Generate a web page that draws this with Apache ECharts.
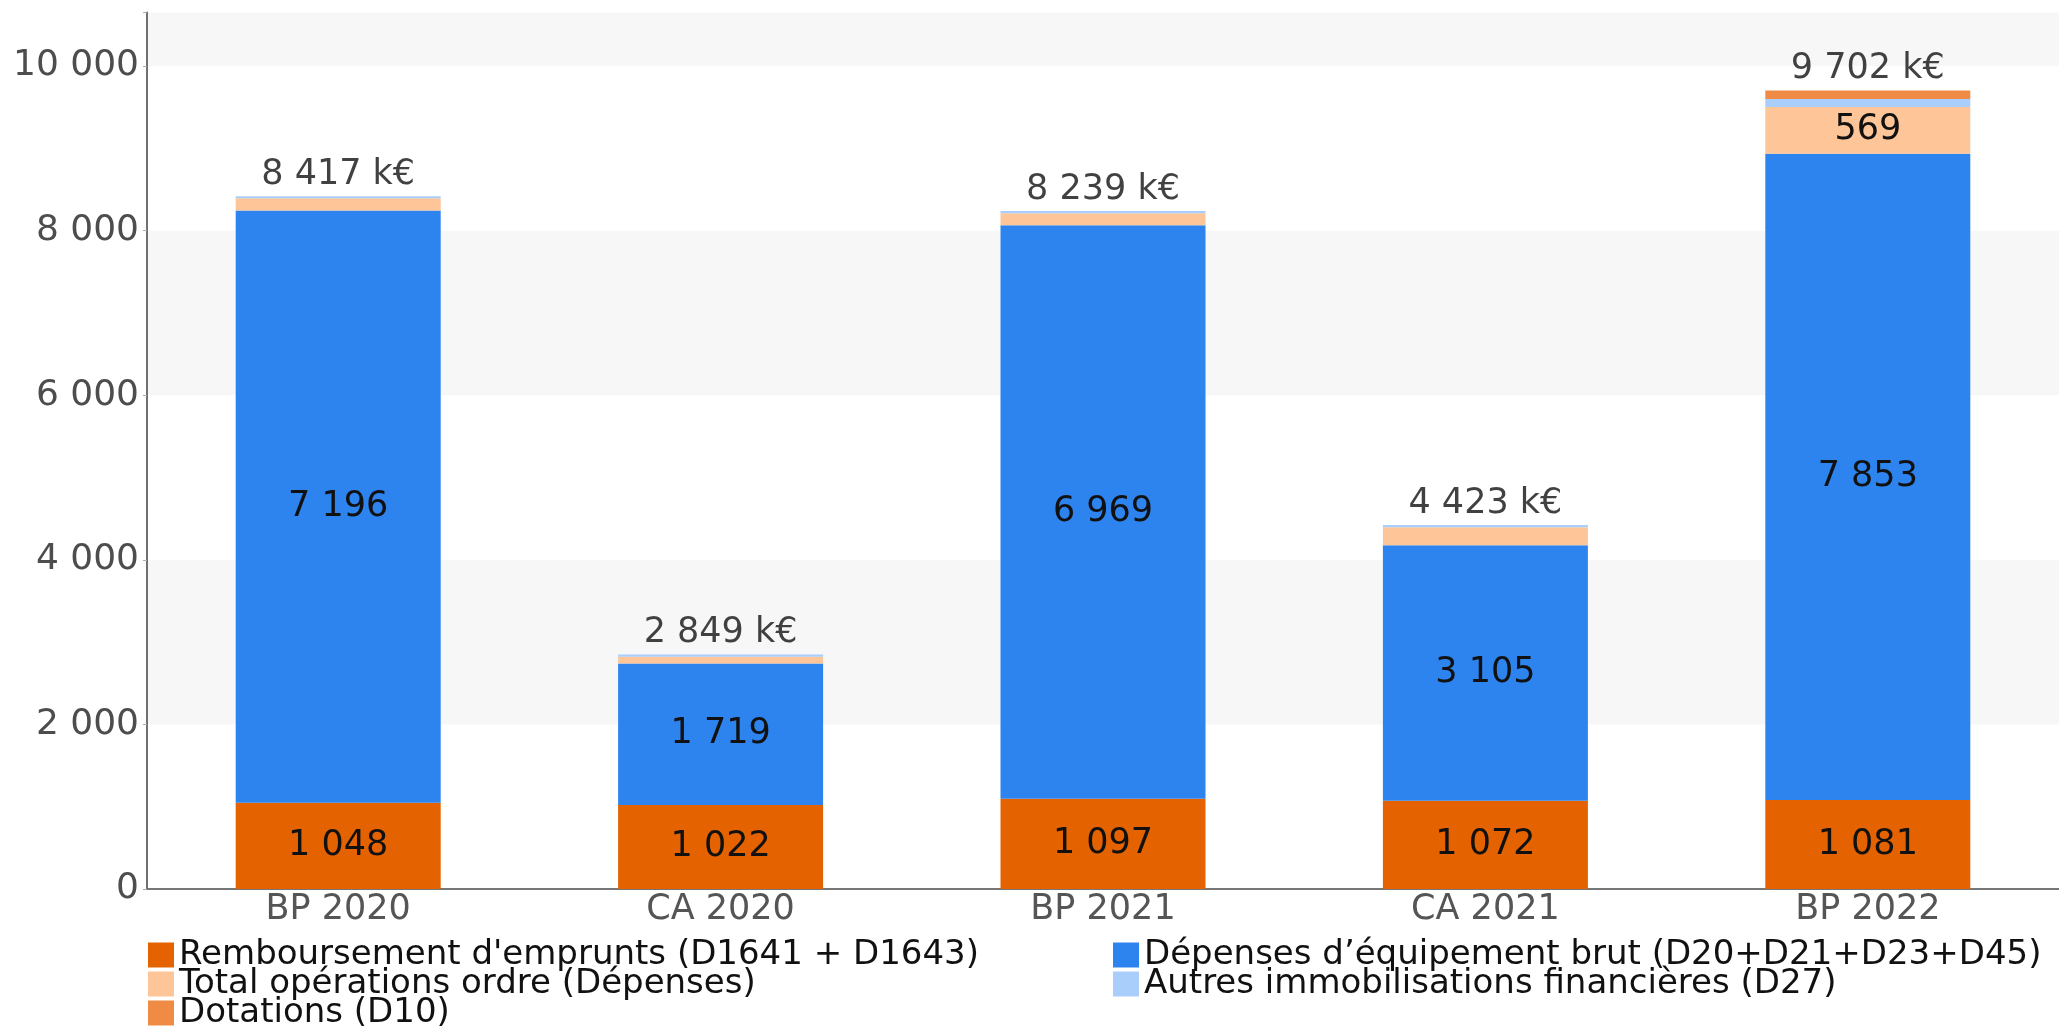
<!DOCTYPE html>
<html lang="fr">
<head>
<meta charset="utf-8">
<title>Dépenses d'investissement</title>
<script src="https://cdn.jsdelivr.net/npm/echarts@6/dist/echarts.min.js"></script>
<style>
  html, body { margin: 0; padding: 0; background: #ffffff; }
  #chart { width: 2059px; height: 1028px; }
</style>
</head>
<body>
<div id="chart"></div>
<script>
// Exercices budgétaires
const categories = ['BP 2020', 'CA 2020', 'BP 2021', 'CA 2021', 'BP 2022'];

// Montants en k€
const remboursement = [1048, 1022, 1097, 1072, 1081];
const equipement    = [7196, 1719, 6969, 3105, 7853];
const operationsOrdre = [148, 82, 145, 218, 569];
const autresImmo    = [25, 26, 28, 28, 96];
const dotations     = [0, 0, 0, 0, 103];
const totaux        = [8417, 2849, 8239, 4423, 9702];

const yTicks = [0, 2000, 4000, 6000, 8000, 10000];

const seriesNames = {
  remb: "Remboursement d'emprunts (D1641 + D1643)",
  equip: 'Dépenses d’équipement brut (D20+D21+D23+D45)',
  ordre: 'Total opérations ordre (Dépenses)',
  autres: 'Autres immobilisations financières (D27)',
  dot: 'Dotations (D10)'
};

const FONT = 'DejaVu Sans';

function fmt(v) {
  return String(v).replace(/\B(?=(\d{3})+(?!\d))/g, ' ');
}

function innerLabel(minValue) {
  return {
    show: true,
    position: 'inside',
    fontFamily: FONT,
    fontSize: 35,
    color: '#111111',
    formatter: p => (p.value >= minValue ? fmt(p.value) : '')
  };
}

const chart = echarts.init(document.getElementById('chart'), null, { renderer: 'canvas' });

const barCommon = {
  type: 'bar',
  stack: 'total',
  barWidth: 205,
  emphasis: { disabled: true }
};

// Légende sur deux colonnes, lignes serrées
const legendCommon = {
  orient: 'vertical',
  top: 938,
  height: 200,
  padding: 0,
  itemGap: -5,
  itemWidth: 26,
  itemHeight: 25,
  icon: 'rect',
  textStyle: { fontFamily: FONT, fontSize: 34, color: '#111111' }
};

chart.setOption({
  animation: false,
  backgroundColor: '#ffffff',
  grid: { left: 147, top: 12.5, width: 1926, bottom: 139, containLabel: false },
  legend: [
    Object.assign({}, legendCommon, {
      left: 148,
      data: [seriesNames.remb, seriesNames.ordre, seriesNames.dot]
    }),
    Object.assign({}, legendCommon, {
      left: 1113,
      data: [seriesNames.equip, seriesNames.autres]
    })
  ],
  xAxis: {
    type: 'category',
    data: categories,
    axisLine: { lineStyle: { color: '#777777', width: 2 } },
    axisTick: { show: false },
    axisLabel: { fontFamily: FONT, fontSize: 35, color: '#555555', margin: 3 },
    splitLine: { show: false }
  },
  yAxis: {
    type: 'value',
    min: 0,
    max: 10650,
    interval: 2000,
    axisLine: { show: true, lineStyle: { color: '#707070', width: 2 } },
    axisTick: { show: true, length: 4, lineStyle: { color: '#aaaaaa' } },
    axisLabel: {
      fontFamily: FONT,
      fontSize: 36,
      color: '#4d4d4d',
      margin: 8,
      formatter: v => (yTicks.includes(v) ? fmt(v) : '')
    },
    splitLine: { show: false },
    splitArea: { show: true, areaStyle: { color: ['#ffffff', '#f7f7f7'] } }
  },
  series: [
    Object.assign({}, barCommon, {
      name: seriesNames.remb,
      data: remboursement,
      itemStyle: { color: '#E46300' },
      label: innerLabel(0)
    }),
    Object.assign({}, barCommon, {
      name: seriesNames.equip,
      data: equipement,
      itemStyle: { color: '#2E84EE' },
      label: innerLabel(0)
    }),
    Object.assign({}, barCommon, {
      name: seriesNames.ordre,
      data: operationsOrdre,
      itemStyle: { color: '#FEC598' },
      label: innerLabel(400)
    }),
    Object.assign({}, barCommon, {
      name: seriesNames.autres,
      data: autresImmo,
      itemStyle: { color: '#A9CEFB' }
    }),
    Object.assign({}, barCommon, {
      name: seriesNames.dot,
      data: dotations,
      itemStyle: { color: '#EF8B45' }
    }),
    {
      type: 'scatter',
      name: 'Total',
      data: totaux,
      symbolSize: 0,
      silent: true,
      label: {
        show: true,
        position: 'top',
        distance: 4,
        fontFamily: FONT,
        fontSize: 35,
        color: '#111111',
        formatter: p => fmt(p.value) + ' k€'
      }
    }
  ]
});
</script>
</body>
</html>
